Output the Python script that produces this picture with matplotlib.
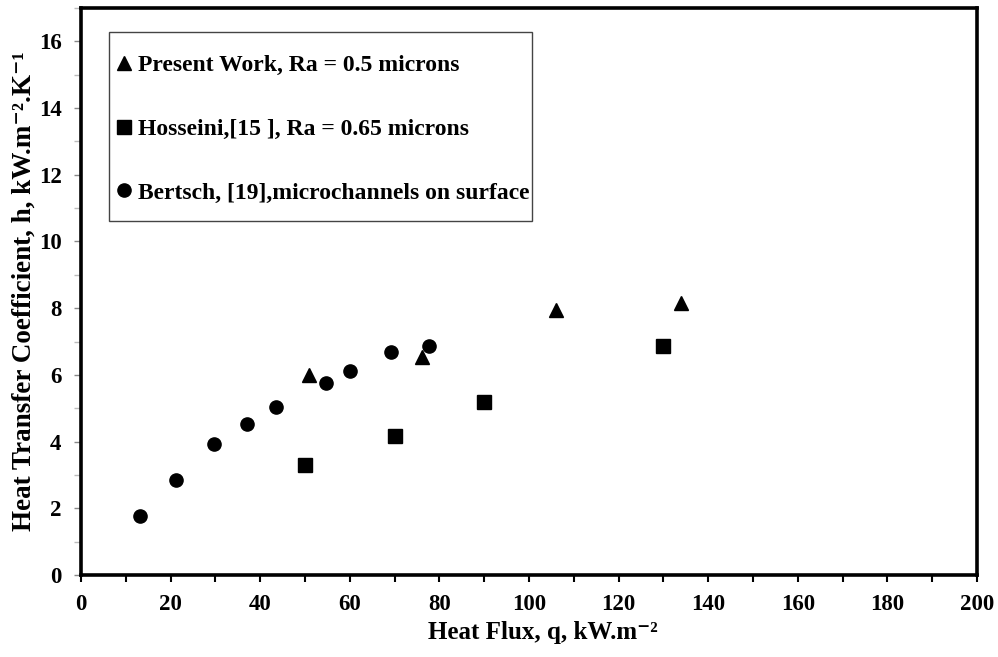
import matplotlib
matplotlib.use("Agg")
import matplotlib.pyplot as plt
from matplotlib.ticker import MultipleLocator
from matplotlib.patches import Rectangle

# data
present_q = [51.0, 76.2, 106.1, 134.0]
present_h = [6.0, 6.55, 7.95, 8.15]

hosseini_q = [50.0, 70.0, 90.0, 130.0]
hosseini_h = [3.29, 4.18, 5.18, 6.88]

bertsch_q = [13.1, 21.2, 29.6, 37.0, 43.5, 54.6, 60.0, 69.2, 77.7]
bertsch_h = [1.78, 2.84, 3.93, 4.53, 5.03, 5.75, 6.11, 6.68, 6.88]

labels = ["Present Work, Ra = 0.5 microns",
          "Hosseini,[15 ], Ra = 0.65 microns",
          "Bertsch, [19],microchannels on surface"]

plt.rcParams["font.family"] = ["Liberation Serif", "DejaVu Serif"]
plt.rcParams["font.weight"] = "bold"

fig = plt.figure(figsize=(9.98, 6.57), dpi=100)
ax = fig.add_axes([81 / 998, 1 - 575 / 657, 896 / 998, 567 / 657])

ax.plot(present_q, present_h, "^", color="black", markersize=10, label=labels[0])
ax.plot(hosseini_q, hosseini_h, "s", color="black", markersize=10, label=labels[1])
ax.plot(bertsch_q, bertsch_h, "o", color="black", markersize=9.5, label=labels[2])

ax.set_xlim(0, 200)
ax.set_ylim(0, 17)
ax.xaxis.set_major_locator(MultipleLocator(20))
ax.xaxis.set_minor_locator(MultipleLocator(10))
ax.yaxis.set_minor_locator(MultipleLocator(1))
ax.set_yticks([0, 2, 4, 6, 8, 10, 12, 14, 16])

for s in ax.spines.values():
    s.set_linewidth(2.6)
    s.set_color("black")

ax.tick_params(which="major", direction="out", length=5, width=1.5, labelsize=16.5, pad=9)
ax.tick_params(which="minor", direction="out", length=5, width=1.5)
ax.tick_params(axis="y", which="minor", color="#bbbbbb", width=1)
ax.tick_params(axis="y", which="major", color="#888888", width=1)
for t in ax.get_xticklabels() + ax.get_yticklabels():
    t.set_fontweight("bold")

ax.set_xlabel("Heat Flux, q, kW.m\u207b\u00b2", fontsize=18, fontweight="bold")
ax.xaxis.set_label_coords(0.516, -0.082)
ax.set_ylabel("Heat Transfer Coefficient, h, kW.m\u207b\u00b2.K\u207b\u00b9", fontsize=19.5,
              fontweight="bold")
ax.yaxis.set_label_coords(-0.049, 0.5)

# legend box drawn separately so padding can differ horizontally / vertically
box = Rectangle((0.0313, 0.6243), 0.4720, 0.3334, transform=ax.transAxes,
                facecolor="white", edgecolor="#444444", linewidth=1.0, zorder=4)
ax.add_patch(box)
leg = ax.legend(loc="upper left", bbox_to_anchor=(0.0346, 0.918), borderaxespad=0,
                frameon=False, borderpad=0,
                prop={"family": "Liberation Serif", "weight": "bold", "size": 17},
                handlelength=1.0, handletextpad=0.1, labelspacing=1.79)
leg.set_zorder(5)

fig.savefig("out.png", dpi=100)
